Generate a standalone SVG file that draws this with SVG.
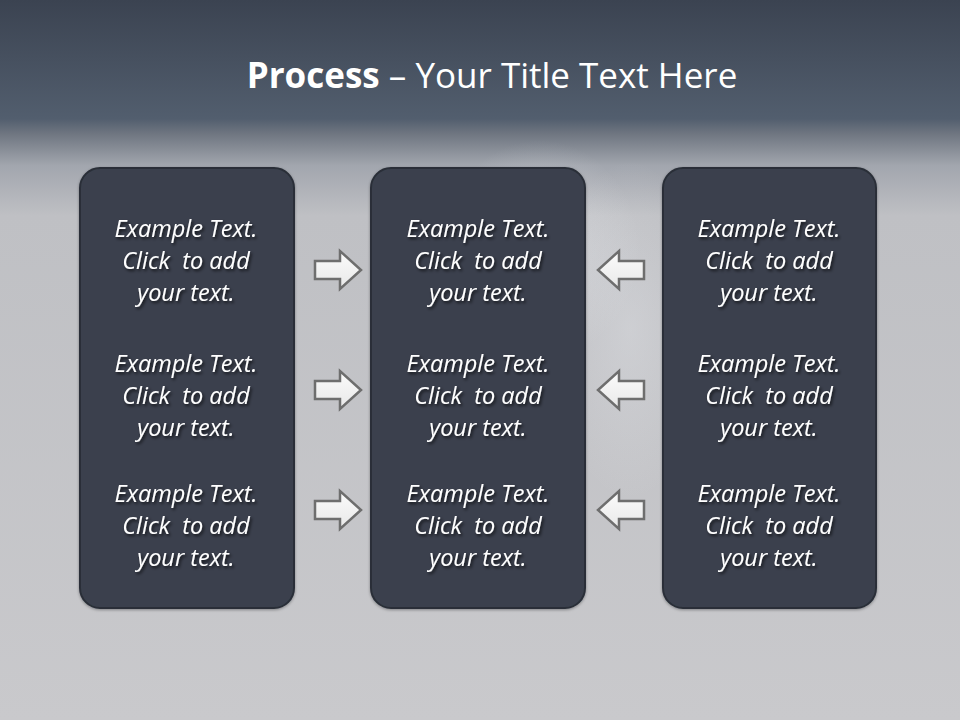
<svg xmlns="http://www.w3.org/2000/svg" width="960" height="720" viewBox="0 0 960 720">
<defs>
<linearGradient id="bg" x1="0" y1="0" x2="0" y2="1">
<stop offset="0" stop-color="#3b4351"/>
<stop offset="0.165" stop-color="#525e6e"/>
<stop offset="0.185" stop-color="#6e7580"/>
<stop offset="0.23" stop-color="#a2a6ae"/>
<stop offset="0.3" stop-color="#bfc0c4"/>
<stop offset="1" stop-color="#c9c9cc"/>
</linearGradient>
<radialGradient id="mist" cx="0.5" cy="0.5" r="0.5">
<stop offset="0" stop-color="#e8eaee" stop-opacity="0.45"/>
<stop offset="1" stop-color="#e8eaee" stop-opacity="0"/>
</radialGradient>
<linearGradient id="arr" x1="0" y1="0" x2="0" y2="1">
<stop offset="0" stop-color="#fbfbfb"/>
<stop offset="1" stop-color="#e8e8e8"/>
</linearGradient>
<filter id="ts" x="-10%" y="-20%" width="120%" height="150%">
<feDropShadow dx="1.5" dy="2" stdDeviation="1.5" flood-color="#000" flood-opacity="0.7"/>
</filter>
<filter id="bs" x="-10%" y="-10%" width="120%" height="120%">
<feDropShadow dx="0" dy="1" stdDeviation="1.5" flood-color="#000" flood-opacity="0.35"/>
</filter>
<path id="ra" d="M0,-9 H25 V-19 L46,0 L25,19 V9 H0 Z"/>
</defs>
<style>
.box{fill:#3a414d;stroke:#2a2f38;stroke-width:2}
.t{font-family:"Open Sans","Noto Sans","Liberation Sans",sans-serif;font-style:italic;font-size:23.5px;fill:#ffffff;text-anchor:middle;white-space:pre}
.arrow{fill:url(#arr);stroke:#6e6e6e;stroke-width:2.5}
.title{font-family:"Open Sans","Noto Sans","Liberation Sans",sans-serif;font-size:35px;fill:#ffffff;text-anchor:middle}
</style>
<rect width="960" height="720" fill="url(#bg)"/>
<ellipse cx="540" cy="250" rx="100" ry="110" fill="url(#mist)"/>
<ellipse cx="630" cy="330" rx="80" ry="170" fill="url(#mist)" opacity="0.7"/>
<text class="title" x="492" y="88"><tspan font-weight="bold">Process</tspan> – Your Title Text Here</text>

<g id="box-left" filter="url(#bs)">
<rect class="box" x="80" y="168" width="214" height="440" rx="20"/>
</g>
<g id="box-middle" filter="url(#bs)">
<rect class="box" x="371" y="168" width="214" height="440" rx="20"/>
</g>
<g id="box-right" filter="url(#bs)">
<rect class="box" x="663" y="168" width="213" height="440" rx="20"/>
</g>

<g id="texts" filter="url(#ts)" xml:space="preserve">
<text class="t" x="186" y="237">Example Text.</text>
<text class="t" x="186" y="269">Click  to add</text>
<text class="t" x="186" y="301">your text.</text>
<text class="t" x="186" y="372">Example Text.</text>
<text class="t" x="186" y="404">Click  to add</text>
<text class="t" x="186" y="436">your text.</text>
<text class="t" x="186" y="502">Example Text.</text>
<text class="t" x="186" y="534">Click  to add</text>
<text class="t" x="186" y="566">your text.</text>

<text class="t" x="478" y="237">Example Text.</text>
<text class="t" x="478" y="269">Click  to add</text>
<text class="t" x="478" y="301">your text.</text>
<text class="t" x="478" y="372">Example Text.</text>
<text class="t" x="478" y="404">Click  to add</text>
<text class="t" x="478" y="436">your text.</text>
<text class="t" x="478" y="502">Example Text.</text>
<text class="t" x="478" y="534">Click  to add</text>
<text class="t" x="478" y="566">your text.</text>

<text class="t" x="769" y="237">Example Text.</text>
<text class="t" x="769" y="269">Click  to add</text>
<text class="t" x="769" y="301">your text.</text>
<text class="t" x="769" y="372">Example Text.</text>
<text class="t" x="769" y="404">Click  to add</text>
<text class="t" x="769" y="436">your text.</text>
<text class="t" x="769" y="502">Example Text.</text>
<text class="t" x="769" y="534">Click  to add</text>
<text class="t" x="769" y="566">your text.</text>
</g>

<g id="connectors">
<use href="#ra" class="arrow" transform="translate(315,270)"/>
<use href="#ra" class="arrow" transform="translate(315,390)"/>
<use href="#ra" class="arrow" transform="translate(315,510)"/>
<use href="#ra" class="arrow" transform="translate(644,270) scale(-1,1)"/>
<use href="#ra" class="arrow" transform="translate(644,390) scale(-1,1)"/>
<use href="#ra" class="arrow" transform="translate(644,510) scale(-1,1)"/>
</g>
</svg>
